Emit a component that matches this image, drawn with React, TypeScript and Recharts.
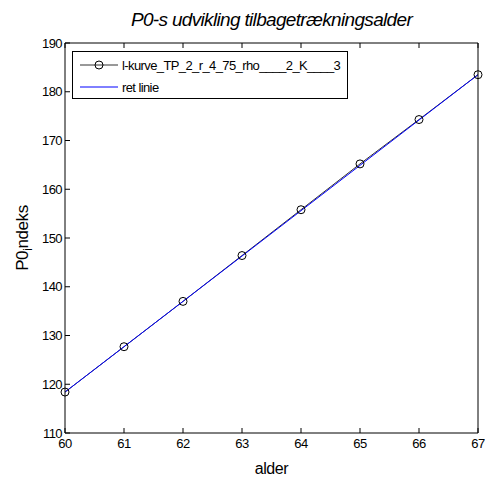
import { Legend, Line, LineChart, XAxis, YAxis } from 'recharts'

const alder = [60, 61, 62, 63, 64, 65, 66, 67]
const p0Indeks = [118.4, 127.7, 137.0, 146.4, 155.8, 165.2, 174.3, 183.5]
const retLinie = [118.4, null, null, null, null, null, null, 183.5]
const xTicks = [60, 61, 62, 63, 64, 65, 66, 67]
const yTicks = [110, 120, 130, 140, 150, 160, 170, 180, 190]

const seriesName = 'l-kurve_TP_2_r_4_75_rho____2_K____3'
const lineName = 'ret linie'

const data = alder.map((a, i) => ({ alder: a, p0: p0Indeks[i], ret: retLinie[i] }))

const font = 'Arial, "Liberation Sans", Helvetica, sans-serif'
const tickStyle = { fontSize: 13, fill: '#000', fontFamily: font, letterSpacing: -0.6 }

function renderLegend() {
  return (
    <div
      style={{
        width: 276,
        height: 48,
        border: '1px solid #000',
        background: '#fff',
        fontFamily: font,
        fontSize: 13,
        letterSpacing: -0.6,
        boxSizing: 'border-box',
      }}
    >
      <svg width={274} height={46} style={{ display: 'block' }}>
        <line x1={7} x2={45} y1={13} y2={13} stroke="#333" strokeWidth={1} />
        <circle cx={26} cy={13} r={4} fill="none" stroke="#000" />
        <text x={49} y={18} fill="#000">{seriesName}</text>
        <line x1={7} x2={45} y1={35} y2={35} stroke="#0000ff" strokeWidth={1} />
        <text x={49} y={40} fill="#000">{lineName}</text>
      </svg>
    </div>
  )
}

function YLabel({ viewBox }: any) {
  const cx = 28
  const cy = viewBox.y + viewBox.height / 2
  return (
    <text
      transform={`translate(${cx}, ${cy}) rotate(-90)`}
      textAnchor="middle"
      fontFamily={font}
      fontSize={17}
      letterSpacing={-0.4}
      fill="#000"
    >
      P0
      <tspan fontSize={12} dy={4}>i</tspan>
      <tspan dy={-4}>ndeks</tspan>
    </text>
  )
}

export default function App() {
  return (
    <div style={{ position: 'absolute', left: 0, top: 0, width: 485, height: 479, background: '#fff' }}>
      <div
        style={{
          position: 'absolute',
          top: 9,
          left: 65,
          width: 413,
          textAlign: 'center',
          fontFamily: font,
          fontStyle: 'italic',
          fontSize: 19,
          letterSpacing: -0.67,
          color: '#000',
        }}
      >
        P0-s udvikling tilbagetrækningsalder
      </div>
      <LineChart width={485} height={479} data={data} margin={{ top: 43, right: 7, bottom: 0, left: 0 }}>
        <XAxis
          xAxisId="b"
          dataKey="alder"
          type="number"
          domain={[60, 67]}
          ticks={xTicks}
          interval={0}
          height={46}
          tickSize={-5}
          tickMargin={11}
          tick={tickStyle}
          stroke="#000"
          tickLine={{ stroke: '#000' }}
          axisLine={{ stroke: '#000' }}
          label={{ value: 'alder', position: 'insideBottom', offset: 5, fill: '#000', fontSize: 16, fontFamily: font, letterSpacing: -0.4 }}
        />
        <XAxis
          xAxisId="t"
          orientation="top"
          mirror
          dataKey="alder"
          type="number"
          domain={[60, 67]}
          ticks={xTicks}
          interval={0}
          tickSize={5}
          tickFormatter={() => ''}
          stroke="#000"
          tickLine={{ stroke: '#000' }}
          axisLine={{ stroke: '#000' }}
        />
        <YAxis
          yAxisId="l"
          type="number"
          domain={[110, 190]}
          ticks={yTicks}
          interval={0}
          width={65}
          tickSize={-5}
          tickMargin={8}
          tick={tickStyle}
          stroke="#000"
          tickLine={{ stroke: '#000' }}
          axisLine={{ stroke: '#000' }}
          label={<YLabel />}
        />
        <YAxis
          yAxisId="r"
          orientation="right"
          mirror
          type="number"
          domain={[110, 190]}
          ticks={yTicks}
          interval={0}
          tickSize={5}
          tickFormatter={() => ''}
          stroke="#000"
          tickLine={{ stroke: '#000' }}
          axisLine={{ stroke: '#000' }}
        />
        <Legend
          layout="vertical"
          align="center"
          verticalAlign="middle"
          content={renderLegend}
          wrapperStyle={{ top: 51, left: 72, width: 276, height: 48 }}
        />
        <Line
          xAxisId="b"
          yAxisId="l"
          dataKey="p0"
          name={seriesName}
          stroke="#333"
          strokeWidth={1}
          dot={{ r: 4, stroke: '#000', strokeWidth: 1, fill: 'none' }}
          activeDot={false}
          isAnimationActive={false}
        />
        <Line
          xAxisId="b"
          yAxisId="l"
          dataKey="ret"
          name={lineName}
          stroke="#0000ff"
          strokeWidth={1}
          dot={false}
          activeDot={false}
          connectNulls
          isAnimationActive={false}
        />
      </LineChart>
    </div>
  )
}
